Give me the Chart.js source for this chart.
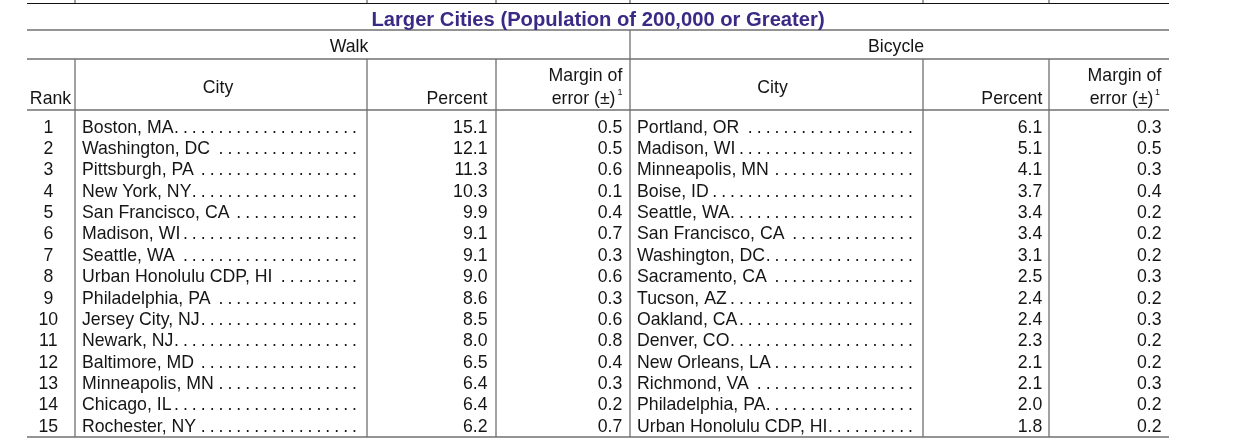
<!DOCTYPE html>
<html>
<head>
<meta charset="utf-8">
<script src="https://cdn.jsdelivr.net/npm/chart.js@4.4.0/dist/chart.umd.min.js"></script>
<style>
    html, body { margin: 0; padding: 0; background: #fff; }
    #wrap { width: 1233px; height: 447px; position: relative; }
</style>
</head>
<body>
<div id="wrap"><canvas id="tableCanvas"></canvas></div>
<script>
// table data
var ranks = ['1', '2', '3', '4', '5', '6', '7', '8', '9', '10', '11', '12', '13', '14', '15'];

var walkCities = ['Boston, MA', 'Washington, DC', 'Pittsburgh, PA', 'New York, NY', 'San Francisco, CA',
    'Madison, WI', 'Seattle, WA', 'Urban Honolulu CDP, HI', 'Philadelphia, PA', 'Jersey City, NJ',
    'Newark, NJ', 'Baltimore, MD', 'Minneapolis, MN', 'Chicago, IL', 'Rochester, NY'];
var walkPercent = [15.1, 12.1, 11.3, 10.3, 9.9, 9.1, 9.1, 9.0, 8.6, 8.5, 8.0, 6.5, 6.4, 6.4, 6.2];
var walkMargin = [0.5, 0.5, 0.6, 0.1, 0.4, 0.7, 0.3, 0.6, 0.3, 0.6, 0.8, 0.4, 0.3, 0.2, 0.7];

var bikeCities = ['Portland, OR', 'Madison, WI', 'Minneapolis, MN', 'Boise, ID', 'Seattle, WA',
    'San Francisco, CA', 'Washington, DC', 'Sacramento, CA', 'Tucson, AZ', 'Oakland, CA',
    'Denver, CO', 'New Orleans, LA', 'Richmond, VA', 'Philadelphia, PA', 'Urban Honolulu CDP, HI'];
var bikePercent = [6.1, 5.1, 4.1, 3.7, 3.4, 3.4, 3.1, 2.5, 2.4, 2.4, 2.3, 2.1, 2.1, 2.0, 1.8];
var bikeMargin = [0.3, 0.5, 0.3, 0.4, 0.2, 0.2, 0.2, 0.3, 0.2, 0.3, 0.2, 0.2, 0.3, 0.2, 0.2];

var tableTitle = 'Larger Cities (Population of 200,000 or Greater)';
var groupNames = ['Walk', 'Bicycle'];

// layout (x in px along a 0..1233 linear scale)
var FONT = '"Liberation Sans", Arial, Helvetica, sans-serif';
var BODY_FONT = '17.7px ' + FONT;
var TEXT_COLOR = '#151515';
var RULE_COLOR = '#707070';
var DOT_PITCH = 8.9;
var COL = {
    rank: 48.3,
    walkCity: 82, walkLeaderEnd: 354.5, walkPct: 487.5, walkMoe: 622.3,
    bikeCity: 637, bikeLeaderEnd: 910.5, bikePct: 1042.3, bikeMoe: 1161.5
};
var RULES_X = [75, 367, 496, 630, 923, 1049];
var TABLE_LEFT = 27, TABLE_RIGHT = 1169;

function cells(x, texts) {
    return texts.map(function (t, i) { return { x: x, y: ranks[i] }; });
}
function fmt(list) {
    return list.map(function (v) { return v.toFixed(1); });
}

var tablePlugin = {
    id: 'tableText',
    afterDatasetsDraw: function (chart) {
        var ctx = chart.ctx;
        var xs = chart.scales.x;
        var area = chart.chartArea;
        var px = function (v) { return xs.getPixelForValue(v); };
        ctx.save();

        // rules
        function hline(y, color, w) {
            ctx.beginPath();
            ctx.strokeStyle = color || RULE_COLOR;
            ctx.lineWidth = w || 1.3;
            ctx.moveTo(px(TABLE_LEFT), y);
            ctx.lineTo(px(TABLE_RIGHT), y);
            ctx.stroke();
        }
        function vline(x, y0, y1) {
            ctx.beginPath();
            ctx.strokeStyle = RULE_COLOR;
            ctx.lineWidth = 1.3;
            ctx.moveTo(px(x), y0);
            ctx.lineTo(px(x), y1);
            ctx.stroke();
        }
        RULES_X.forEach(function (x) { vline(x, 0, 3.5); });
        hline(3.5, '#111', 1.2);
        hline(30);
        hline(59);
        hline(110);
        hline(area.bottom + 1);
        RULES_X.forEach(function (x) {
            vline(x, x === 630 ? 30 : 59, area.bottom + 1);
        });

        // title and group headings
        ctx.fillStyle = '#3b2a85';
        ctx.font = 'bold 20.2px ' + FONT;
        ctx.textAlign = 'center';
        ctx.fillText(tableTitle, px(598), 26);

        ctx.fillStyle = TEXT_COLOR;
        ctx.font = BODY_FONT;
        ctx.fillText(groupNames[0], px(349), 52);
        ctx.fillText(groupNames[1], px(896), 52);

        // column headers
        ctx.fillText('Rank', px(50.5), 104);
        ctx.fillText('City', px(218), 93);
        ctx.fillText('City', px(772.5), 93);
        ctx.textAlign = 'right';
        ctx.fillText('Percent', px(487.5), 104);
        ctx.fillText('Percent', px(1042.3), 104);
        ctx.fillText('Margin of', px(622.3), 81);
        ctx.fillText('Margin of', px(1161.3), 81);
        ctx.fillText('error (\u00b1)', px(615.5), 104);
        ctx.fillText('error (\u00b1)', px(1153.5), 104);
        ctx.textAlign = 'left';
        ctx.font = '9px ' + FONT;
        ctx.fillText('1', px(617.5), 95);
        ctx.fillText('1', px(1155), 95);

        // body cells, placed at each dataset point
        ctx.font = BODY_FONT;
        chart.data.datasets.forEach(function (ds, di) {
            var meta = chart.getDatasetMeta(di);
            ctx.textAlign = ds.align;
            meta.data.forEach(function (pt, j) {
                var text = ds.cellText[j];
                var base = pt.y + 6.3;
                ctx.fillText(text, pt.x, base);
                if (ds.leaderEnd) {
                    var end = pt.x + ctx.measureText(text).width;
                    ctx.textAlign = 'center';
                    for (var x = px(ds.leaderEnd); x > end + 2.5; x -= DOT_PITCH) {
                        ctx.fillText('.', x, base);
                    }
                    ctx.textAlign = ds.align;
                }
            });
        });
        ctx.restore();
    }
};

var walkColumns = [
    { label: 'Rank', data: cells(COL.rank, ranks), cellText: ranks, align: 'center' },
    { label: 'Walk city', data: cells(COL.walkCity, walkCities), cellText: walkCities, align: 'left', leaderEnd: COL.walkLeaderEnd },
    { label: 'Walk percent', data: cells(COL.walkPct, walkPercent), cellText: fmt(walkPercent), align: 'right' },
    { label: 'Walk margin', data: cells(COL.walkMoe, walkMargin), cellText: fmt(walkMargin), align: 'right' }
];
var bikeColumns = [
    { label: 'Bicycle city', data: cells(COL.bikeCity, bikeCities), cellText: bikeCities, align: 'left', leaderEnd: COL.bikeLeaderEnd },
    { label: 'Bicycle percent', data: cells(COL.bikePct, bikePercent), cellText: fmt(bikePercent), align: 'right' },
    { label: 'Bicycle margin', data: cells(COL.bikeMoe, bikeMargin), cellText: fmt(bikeMargin), align: 'right' }
];

var tableChart = new Chart(document.getElementById('tableCanvas'), {
    type: 'scatter',
    data: { datasets: walkColumns.concat(bikeColumns) },
    options: {
        responsive: true,
        maintainAspectRatio: false,
        animation: false,
        events: [],
        layout: { padding: { top: 115.7, bottom: 11, left: 0, right: 0 } },
        elements: { point: { radius: 0, hoverRadius: 0 } },
        plugins: { legend: { display: false }, tooltip: { enabled: false } },
        scales: {
            x: { type: 'linear', min: 0, max: 1233, display: false },
            y: { type: 'category', labels: ranks, offset: true, display: false }
        }
    },
    plugins: [tablePlugin]
});
</script>
</body>
</html>
